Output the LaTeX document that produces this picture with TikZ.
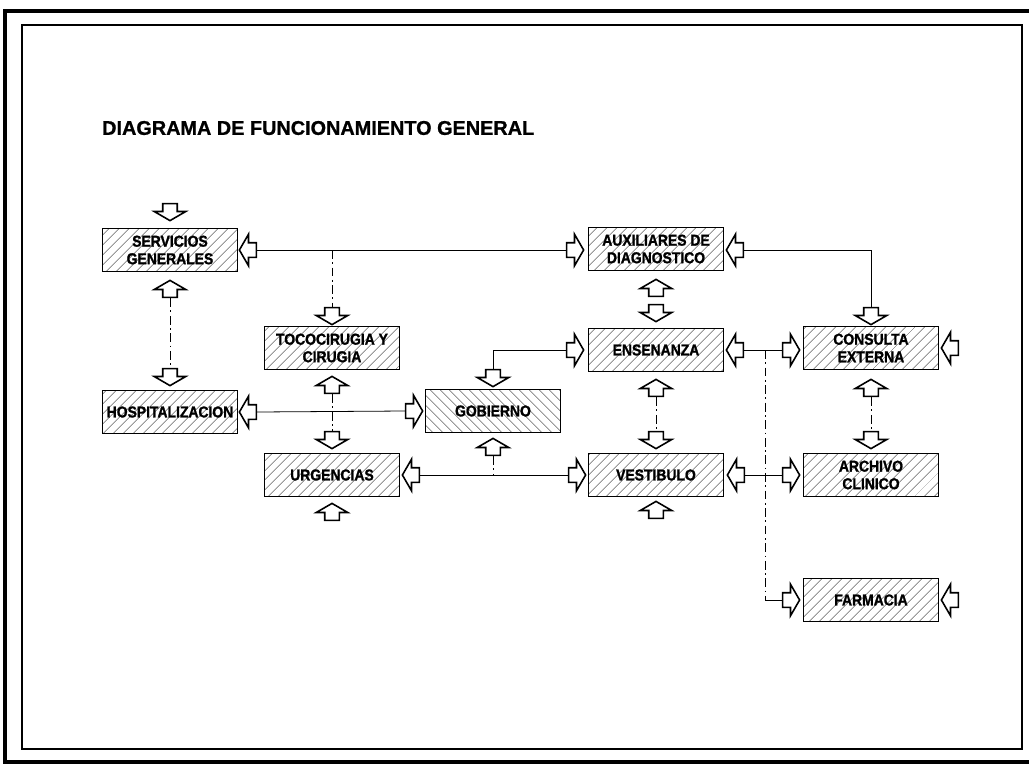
\documentclass[tikz,border=0pt]{standalone}
\usepackage{fontspec}
\setmainfont{Liberation Sans}
\newfontfamily\rotulo{Liberation Sans}[FakeStretch=0.88, FakeBold=1.2]
\newfontfamily\titular{Liberation Sans}[FakeBold=1]
\usetikzlibrary{shapes.arrows,patterns.meta}

\tikzset{
  area/.style={draw, line width=1.1pt, minimum width=2.7cm, minimum height=0.86cm, inner sep=1pt,
    align=center, font=\rotulo\fontsize{9}{10}\selectfont\bfseries,
    pattern={Lines[angle=45,distance=4pt,line width=0.4pt]}, pattern color=black!60},
  areainv/.style={area, pattern={Lines[angle=-45,distance=4pt,line width=0.4pt]}},
  flecha/.style={single arrow, draw, fill=white, line width=0.9pt, minimum height=0.34cm,
    inner xsep=0pt, inner ysep=0.13cm, single arrow head extend=0.17cm, single arrow tip angle=120},
  abajo/.style={flecha, rotate=-90},
  arriba/.style={flecha, rotate=90},
  izq/.style={flecha, rotate=180},
  der/.style={flecha},
  liga/.style={line width=0.45pt},
  punteada/.style={line width=0.45pt, dash pattern=on 5pt off 2pt on 1pt off 2pt}
}

\begin{document}
\begin{tikzpicture}[x=0.02cm, y=-0.02cm]
            \useasboundingbox (0,0) rectangle (1029,765);
            \draw[line width=2.4pt] (1040,11) -- (5,11) -- (5,762) -- (1040,762);
            \draw[line width=0.9pt] (22,25) rectangle (1022,749);
            \node[anchor=west, font=\titular\fontsize{11.3}{13}\selectfont\bfseries] (titulo) at (96,128) {DIAGRAMA DE FUNCIONAMIENTO GENERAL};

            \node[area] (serv) at (170,250) {SERVICIOS\\GENERALES};
            \node[area] (hosp) at (170,412) {HOSPITALIZACION};
            \node[area] (toco) at (332,348) {TOCOCIRUGIA Y\\CIRUGIA};
            \node[area] (urg) at (332,475) {URGENCIAS};
            \node[areainv] (gob) at (493,411) {GOBIERNO};
            \node[area] (aux) at (656,249) {AUXILIARES DE\\DIAGNOSTICO};
            \node[area] (ens) at (656,350) {ENSENANZA};
            \node[area] (vest) at (656,475) {VESTIBULO};
            \node[area] (cons) at (871,348) {CONSULTA\\EXTERNA};
            \node[area] (arch) at (871,475) {ARCHIVO\\CLINICO};
            \node[area] (farm) at (871,600) {FARMACIA};

            \node[abajo] (a1) at (170,210) {};
            \node[izq] (a2) at (250,250) {};
            \node[arriba] (a3) at (170,291) {};
            \node[abajo] (a4) at (170,375) {};
            \node[izq] (a5) at (250,412) {};
            \node[abajo] (a6) at (332,314) {};
            \node[arriba] (a7) at (332,387) {};
            \node[abajo] (a8) at (332,438) {};
            \node[izq] (a9) at (413,475) {};
            \node[arriba] (a10) at (332,514) {};
            \node[abajo] (a11) at (493,376) {};
            \node[der] (a12) at (412,411) {};
            \node[arriba] (a13) at (493,449) {};
            \node[der] (a14) at (573,250) {};
            \node[izq] (a15) at (737,250) {};
            \node[arriba] (a16) at (656,290) {};
            \node[abajo] (a17) at (656,311) {};
            \node[der] (a18) at (573,350) {};
            \node[izq] (a19) at (737,350) {};
            \node[arriba] (a20) at (656,390) {};
            \node[abajo] (a21) at (656,438) {};
            \node[der] (a22) at (575,475) {};
            \node[izq] (a23) at (738,475) {};
            \node[arriba] (a24) at (656,512) {};
            \node[abajo] (a25) at (871,314) {};
            \node[der] (a26) at (789,350) {};
            \node[izq] (a27) at (952,348) {};
            \node[arriba] (a28) at (871,390) {};
            \node[abajo] (a29) at (871,438) {};
            \node[der] (a30) at (789,475) {};
            \node[der] (a31) at (789,600) {};
            \node[izq] (a32) at (952,600) {};

            \draw[liga] (a2.tail) -- (a14.tail);
            \draw[punteada] (a6.tail |- a2.tail) -- (a6.tail);
            \draw[punteada] (a3.tail) -- (a4.tail);
            \draw[liga] (a5.tail) -- (a12.tail);
            \draw[punteada] (a7.tail) -- (a8.tail);
            \draw[liga] (a9.tail) -- (a22.tail);
            \draw[punteada] (a13.tail) -- (a13.tail |- a9.tail);
            \draw[liga] (a18.tail) -| (a11.tail);
            \draw[liga] (a15.tail) -| (a25.tail);
            \draw[liga] (a19.tail) -- (a26.tail);
            \draw[punteada] (a20.tail) -- (a21.tail);
            \draw[liga] (a23.tail) -- (a30.tail);
            \draw[punteada] (a28.tail) -- (a29.tail);
            \coordinate (rama) at (765,0 |- a19.tail);
            \coordinate (codo) at (rama |- a31.tail);
            \draw[punteada] (rama) -- (codo);
            \draw[liga] (codo) -- (a31.tail);
        \end{tikzpicture}
\end{document}
